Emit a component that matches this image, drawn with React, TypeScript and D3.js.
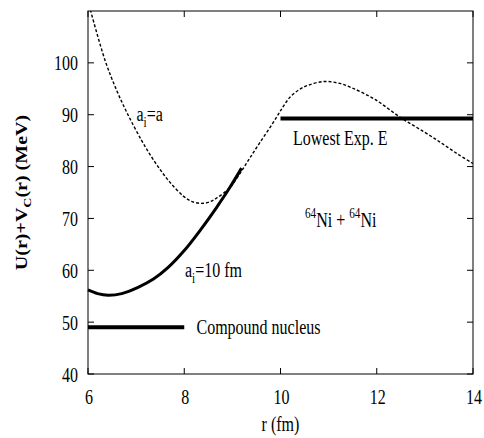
import * as d3 from "d3";
import { useEffect, useRef } from "react";

// curve a_i = a (dashed)
const dashR = [6.05, 6.35, 6.6, 6.83, 7.11, 7.29, 7.5, 7.7, 7.98, 8.15, 8.33, 8.5, 8.67, 8.95, 9.16, 9.36, 9.57, 9.85, 10.03, 10.2, 10.4, 10.58, 10.9, 11.2, 11.48, 11.97, 12.52, 13.0, 13.35, 13.7, 14.0];
const dashV = [110.2, 100.6, 94.6, 90.0, 85.1, 82.3, 79.4, 77.0, 74.3, 73.3, 72.9, 73.1, 73.9, 76.0, 78.7, 81.6, 84.6, 88.5, 91.2, 93.4, 94.9, 95.7, 96.4, 96.1, 95.2, 92.9, 89.3, 86.6, 84.5, 82.3, 80.6];
// curve a_i = 10 fm (solid)
const solidR = [6.0, 6.2, 6.42, 6.7, 7.04, 7.36, 7.66, 8.0, 8.33, 8.67, 8.95, 9.19];
const solidV = [56.2, 55.5, 55.2, 55.5, 56.7, 58.3, 60.5, 63.8, 67.7, 72.1, 76.0, 79.7];
const xTicks = [6, 8, 10, 12, 14];
const yTicks = [40, 50, 60, 70, 80, 90, 100];
const levels = [
  { r0: 10, r1: 14, v: 89.25 },
  { r0: 6, r1: 8, v: 49.0 },
];

const App = () => {
  const ref = useRef<SVGSVGElement>(null);

  useEffect(() => {
    const svg = d3.select(ref.current);
    svg.selectAll("*").remove();

    const left = 88, right = 473, top = 11, bottom = 374;
    const x = d3.scaleLinear().domain([6, 14]).range([left, right]);
    const y = d3.scaleLinear().domain([40, 110]).range([bottom, top]);
    const font = "Liberation Serif, Times New Roman, Times, serif";
    const sx = 0.8; // glyphs in the original are narrow

    const g = svg.append("g").style("font-family", font);

    const label = (px: number, py: number, anchor = "start") =>
      g.append("text")
        .attr("transform", `translate(${px},${py}) scale(${sx},1)`)
        .attr("text-anchor", anchor)
        .style("font-size", "20px");

    // frame
    g.append("rect")
      .attr("x", left).attr("y", top)
      .attr("width", right - left).attr("height", bottom - top)
      .attr("fill", "none").attr("stroke", "#000").attr("stroke-width", 1);

    // ticks, inward on all sides
    const tl = 6;
    xTicks.forEach((t) => {
      g.append("line").attr("x1", x(t)).attr("x2", x(t)).attr("y1", bottom).attr("y2", bottom - tl).attr("stroke", "#000");
      g.append("line").attr("x1", x(t)).attr("x2", x(t)).attr("y1", top).attr("y2", top + tl).attr("stroke", "#000");
      label(x(t) + 1, 404, "middle").text(t);
    });
    yTicks.forEach((t) => {
      g.append("line").attr("x1", left).attr("x2", left + tl).attr("y1", y(t)).attr("y2", y(t)).attr("stroke", "#000");
      g.append("line").attr("x1", right).attr("x2", right - tl).attr("y1", y(t)).attr("y2", y(t)).attr("stroke", "#000");
      label(78, y(t) + 7.5, "end").text(t);
    });

    // axis labels
    label((left + right) / 2, 431, "middle").text("r (fm)");
    const yl = g.append("text")
      .attr("transform", `translate(27,${(top + bottom) / 2}) scale(${sx},1) rotate(-90)`)
      .attr("text-anchor", "middle").style("font-size", "20px").attr("font-weight", "bold");
    yl.append("tspan").text("U(r)+V");
    yl.append("tspan").style("font-size", "14px").attr("dy", 5).text("C");
    yl.append("tspan").attr("dy", -5).text("(r) (MeV)");

    const clip = svg.append("clipPath").attr("id", "plotclip");
    clip.append("rect").attr("x", left).attr("y", top).attr("width", right - left).attr("height", bottom - top);

    const line = d3.line<[number, number]>().x((d) => x(d[0])).y((d) => y(d[1])).curve(d3.curveCatmullRom.alpha(0.5));

    g.append("path")
      .attr("d", line(dashR.map((r, i) => [r, dashV[i]] as [number, number])))
      .attr("clip-path", "url(#plotclip)")
      .attr("fill", "none").attr("stroke", "#000").attr("stroke-width", 1.4)
      .attr("stroke-dasharray", "3,2");

    g.append("path")
      .attr("d", line(solidR.map((r, i) => [r, solidV[i]] as [number, number])))
      .attr("fill", "none").attr("stroke", "#000").attr("stroke-width", 3);

    levels.forEach((l) => {
      g.append("line")
        .attr("x1", x(l.r0)).attr("x2", x(l.r1)).attr("y1", y(l.v)).attr("y2", y(l.v))
        .attr("stroke", "#000").attr("stroke-width", 4);
    });

    // annotations
    const t1 = label(136.5, 121);
    t1.append("tspan").text("a");
    t1.append("tspan").style("font-size", "14px").attr("dy", 6).text("i");
    t1.append("tspan").attr("dy", -6).text("=a");

    const t2 = label(185, 277);
    t2.append("tspan").text("a");
    t2.append("tspan").style("font-size", "14px").attr("dy", 6).text("i");
    t2.append("tspan").attr("dy", -6).text("=10 fm");

    label(293, 145).text("Lowest Exp. E");
    label(196.5, 334).text("Compound nucleus");

    const t3 = label(305, 227);
    t3.append("tspan").style("font-size", "14px").attr("dy", -9).text("64");
    t3.append("tspan").attr("dy", 9).text("Ni + ");
    t3.append("tspan").style("font-size", "14px").attr("dy", -9).text("64");
    t3.append("tspan").attr("dy", 9).text("Ni");
  }, []);

  return <svg ref={ref} width={484} height={438} style={{ position: "absolute", left: 0, top: 0 }} />;
};

export default App;
